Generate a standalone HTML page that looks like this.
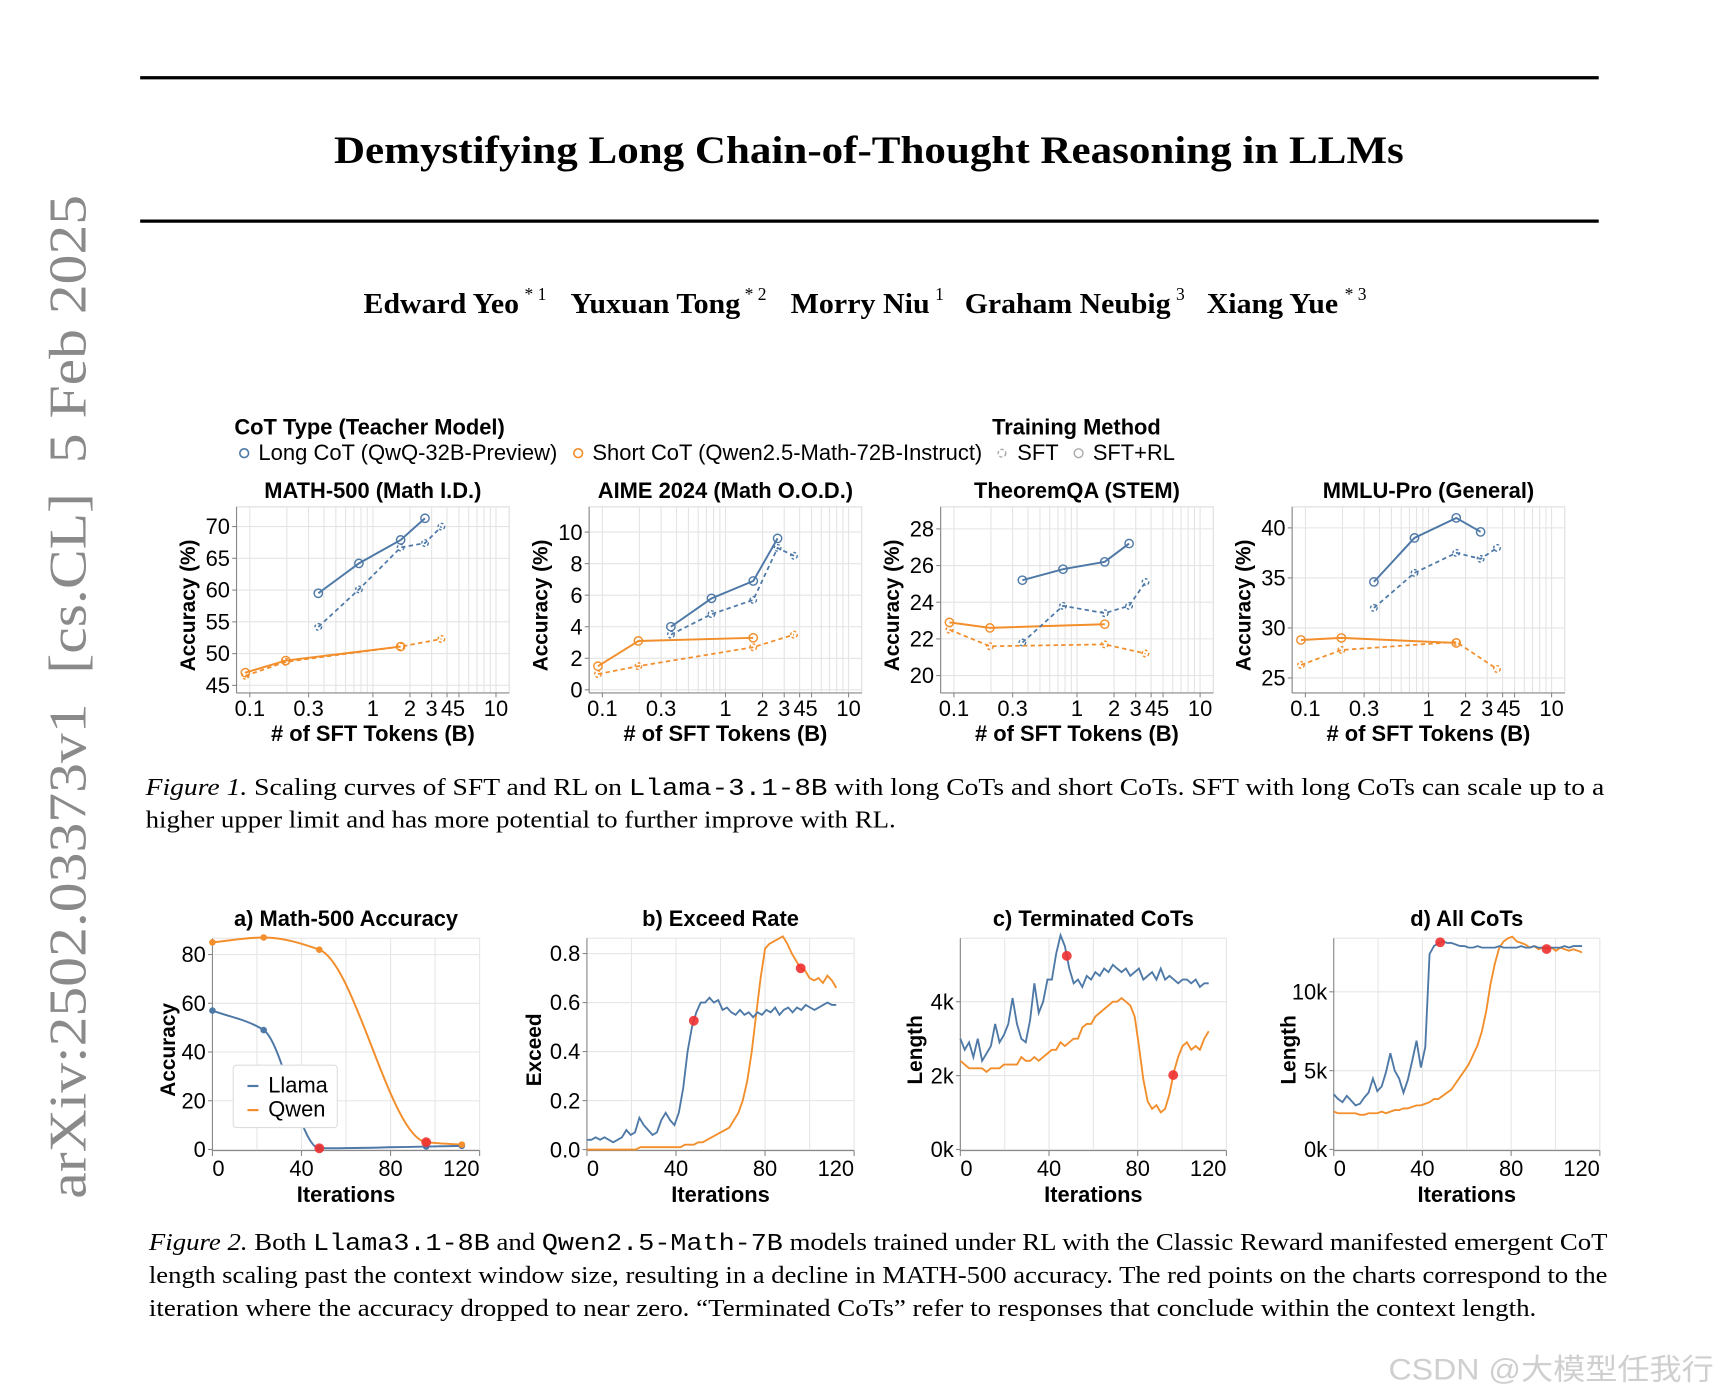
<!DOCTYPE html>
<html><head><meta charset="utf-8">
<style>
html,body{margin:0;padding:0;background:#fff;width:1717px;height:1398px;overflow:hidden}
svg{display:block}
.ser{font-family:"Liberation Serif",serif}
.san{font-family:"Liberation Sans Narrow","Liberation Sans",sans-serif}
.mono{font-family:"Liberation Mono",monospace}
</style></head>
<body>
<svg id="page" xmlns="http://www.w3.org/2000/svg" width="1717" height="1398" viewBox="0 0 1568 1277" preserveAspectRatio="none">
<line x1="128" y1="71" x2="1460" y2="71" stroke="#000" stroke-width="3"/>
<text class="ser" x="305" y="149" font-size="36" font-weight="bold" textLength="977" lengthAdjust="spacingAndGlyphs">Demystifying Long Chain-of-Thought Reasoning in LLMs</text>
<line x1="128" y1="202" x2="1460" y2="202" stroke="#000" stroke-width="3"/>
<g class="ser" font-weight="bold" font-size="26">
<text x="332" y="286" textLength="142" lengthAdjust="spacingAndGlyphs">Edward Yeo</text><text x="479" y="274" font-size="16" font-weight="normal">* 1</text>
<text x="521" y="286" textLength="155" lengthAdjust="spacingAndGlyphs">Yuxuan Tong</text><text x="680" y="274" font-size="16" font-weight="normal">* 2</text>
<text x="722" y="286" textLength="127" lengthAdjust="spacingAndGlyphs">Morry Niu</text><text x="854" y="274" font-size="16" font-weight="normal">1</text>
<text x="881" y="286" textLength="188" lengthAdjust="spacingAndGlyphs">Graham Neubig</text><text x="1074" y="274" font-size="16" font-weight="normal">3</text>
<text x="1102" y="286" textLength="120" lengthAdjust="spacingAndGlyphs">Xiang Yue</text><text x="1228" y="274" font-size="16" font-weight="normal">* 3</text>
</g>
<text class="ser" transform="translate(78,1095) rotate(-90)" x="0" y="0" font-size="48" fill="#8a8a8a" textLength="917" lengthAdjust="spacingAndGlyphs" xml:space="preserve">arXiv:2502.03373v1  [cs.CL]  5 Feb 2025</text>

<g class="san" font-size="20">
<text x="214" y="397" font-weight="bold" textLength="247" lengthAdjust="spacingAndGlyphs">CoT Type (Teacher Model)</text>
<circle cx="223" cy="414" r="4" fill="none" stroke="#4e79a7" stroke-width="1.5"/>
<text x="236" y="420" textLength="273" lengthAdjust="spacingAndGlyphs">Long CoT (QwQ-32B-Preview)</text>
<circle cx="528" cy="414" r="4" fill="none" stroke="#f28e2b" stroke-width="1.5"/>
<text x="541" y="420" textLength="356" lengthAdjust="spacingAndGlyphs">Short CoT (Qwen2.5-Math-72B-Instruct)</text>
<text x="906" y="397" font-weight="bold" textLength="154" lengthAdjust="spacingAndGlyphs">Training Method</text>
<circle cx="915" cy="414" r="3.5" fill="none" stroke="#aaa" stroke-width="1.3" stroke-dasharray="3,2"/>
<text x="929" y="420">SFT</text>
<circle cx="985" cy="414" r="4" fill="none" stroke="#aaa" stroke-width="1.3"/>
<text x="998" y="420" textLength="75" lengthAdjust="spacingAndGlyphs">SFT+RL</text>
</g>
<g id="fig1"></g>

<text class="ser" x="133" y="726" font-size="22" textLength="1332" lengthAdjust="spacingAndGlyphs"><tspan font-style="italic">Figure 1.</tspan> Scaling curves of SFT and RL on <tspan class="mono">Llama-3.1-8B</tspan> with long CoTs and short CoTs.  SFT with long CoTs can scale up to a</text>
<text class="ser" x="133" y="756" font-size="22" textLength="685" lengthAdjust="spacingAndGlyphs">higher upper limit and has more potential to further improve with RL.</text>

<g id="fig2"></g>

<text class="ser" x="136" y="1142" font-size="22" textLength="1332" lengthAdjust="spacingAndGlyphs"><tspan font-style="italic">Figure 2.</tspan> Both <tspan class="mono">Llama3.1-8B</tspan> and <tspan class="mono">Qwen2.5-Math-7B</tspan> models trained under RL with the Classic Reward manifested emergent CoT</text>
<text class="ser" x="136" y="1172" font-size="22" textLength="1332" lengthAdjust="spacingAndGlyphs">length scaling past the context window size, resulting in a decline in MATH-500 accuracy. The red points on the charts correspond to the</text>
<text class="ser" x="136" y="1202" font-size="22" textLength="1267" lengthAdjust="spacingAndGlyphs">iteration where the accuracy dropped to near zero. “Terminated CoTs” refer to responses that conclude within the context length.</text>
<text x="1268" y="1260" font-size="27" fill="#cfcfcf" font-family="'Liberation Sans','Noto Sans CJK SC',sans-serif" textLength="297" lengthAdjust="spacingAndGlyphs">CSDN @大模型任我行</text>
</svg>
<script>
// ---------- Figure 1 data ----------
const xsLongRL = [0.36, 0.77, 1.68, 2.65];
const xsLongSFT = [0.36, 0.77, 1.68, 2.65, 3.6];
const xsShortRL = [0.092, 0.196, 1.68];
const xsShortSFT = [0.092, 0.196, 1.68, 3.6];
const f1Titles = ['MATH-500 (Math I.D.)', 'AIME 2024 (Math O.O.D.)', 'TheoremQA (STEM)', 'MMLU-Pro (General)'];
const f1YTicks = [[45,50,55,60,65,70],[0,2,4,6,8,10],[20,22,24,26,28],[25,30,35,40]];
const f1XTickVals = [0.1, 0.3, 1, 2, 3, 4, 5, 10];
const f1XTickLabels = ['0.1','0.3','1','2','3','4','5','10'];
const longRL = [[59.5,64.2,67.9,71.3],[4.0,5.8,6.9,9.6],[25.2,25.8,26.2,27.2],[34.6,39.0,41.0,39.6]];
const longSFT = [[54.2,60.1,66.7,67.4,70.0],[3.5,4.8,5.7,9.0,8.5],[21.8,23.8,23.4,23.8,25.1],[32.0,35.5,37.5,36.9,38.0]];
const shortRL = [[47.0,48.9,51.1],[1.5,3.1,3.3],[22.9,22.6,22.8],[28.8,29.0,28.5]];
const shortSFT = [[46.5,48.7,51.1,52.3],[1.0,1.5,2.7,3.5],[22.5,21.6,21.7,21.2],[26.3,27.8,28.6,25.9]];

// ---------- Figure 2 data ----------
const f2Titles = ['a) Math-500 Accuracy','b) Exceed Rate','c) Terminated CoTs','d) All CoTs'];
const f2YLabels = ['Accuracy','Exceed','Length','Length'];
const lastIter = 112;
const accIters = [0,23,48,96,112];
const accLlama = [57,49,0.5,1.2,1.5];
const accQwen = [85,87,82,3,2];
const redIters = [48, 96];
const exceedLlama = [.04,.04,.05,.04,.05,.04,.03,.04,.05,.08,.06,.07,.13,.10,.08,.06,.07,.12,.15,.12,.10,.15,.25,.40,.50,.56,.60,.60,.62,.60,.61,.57,.58,.56,.55,.57,.55,.56,.54,.56,.55,.57,.56,.58,.55,.57,.58,.56,.58,.57,.59,.58,.57,.58,.59,.60,.59,.59];
const exceedQwen = [0,0,0,0,0,0,0,0,0,0,0,0,.01,.01,.01,.01,.01,.01,.01,.01,.01,.01,.02,.02,.02,.03,.03,.04,.05,.06,.07,.08,.09,.12,.15,.20,.28,.40,.55,.70,.82,.84,.85,.86,.87,.84,.80,.77,.74,.73,.70,.69,.70,.68,.71,.69,.66];
const termLlama = [3.0,2.7,2.9,2.5,3.0,2.4,2.6,2.8,3.4,2.9,3.1,3.4,4.1,3.4,3.0,2.9,3.5,4.5,3.7,4.0,4.6,4.6,5.3,5.8,5.5,4.9,4.5,4.6,4.4,4.7,4.6,4.8,4.7,4.9,4.8,5.0,4.9,4.8,4.9,4.7,4.8,4.9,4.6,4.7,4.8,4.6,4.9,4.6,4.7,4.6,4.5,4.6,4.6,4.5,4.6,4.4,4.5,4.5];
const termQwen = [2.4,2.3,2.2,2.2,2.2,2.2,2.1,2.2,2.2,2.2,2.3,2.3,2.3,2.3,2.5,2.4,2.4,2.5,2.4,2.5,2.6,2.7,2.7,2.9,2.8,2.9,3.0,3.0,3.3,3.4,3.4,3.6,3.7,3.8,3.9,4.0,4.0,4.1,4.0,3.9,3.6,2.8,1.9,1.3,1.1,1.2,1.0,1.1,1.5,2.1,2.5,2.8,2.9,2.7,2.8,2.7,3.0,3.2];
const allLlama = [3.5,3.2,3.0,3.4,3.1,2.8,2.9,3.3,3.6,4.5,3.7,4.0,4.9,6.1,5.0,4.5,3.6,4.4,5.6,6.9,5.2,6.5,12.4,12.9,13.1,13.2,13.1,13.1,13.0,12.9,12.9,12.8,12.8,12.9,12.8,12.8,12.8,12.8,12.9,12.8,12.8,12.8,12.8,12.9,12.8,12.8,12.9,12.8,12.8,12.8,12.8,12.8,12.8,12.9,12.8,12.9,12.9,12.9];
const allQwen = [2.4,2.3,2.3,2.3,2.3,2.3,2.2,2.2,2.3,2.3,2.3,2.4,2.3,2.4,2.5,2.5,2.6,2.6,2.7,2.8,2.8,2.9,3.0,3.2,3.2,3.4,3.6,3.8,4.2,4.6,5.0,5.4,6.0,6.6,7.5,8.8,10.5,11.8,12.8,13.2,13.4,13.5,13.2,13.1,13.0,12.8,12.9,12.7,12.8,12.7,12.8,12.6,12.8,12.7,12.6,12.7,12.6,12.5];
const f2YTicks = [[0,20,40,60,80],[0,0.2,0.4,0.6,0.8],[0,2,4],[0,5,10]];
const f2YTickLabels = [['0','20','40','60','80'],['0.0','0.2','0.4','0.6','0.8'],['0k','2k','4k'],['0k','5k','10k']];
const f2XTicks = [0,40,80,120];

const NS = 'http://www.w3.org/2000/svg';
const BLUE = '#4e79a7', ORANGE = '#f28e2b';
function mk(tag, attrs, nm, parent, txt) {
  const el = document.createElementNS(NS, tag);
  for (const k in attrs) el.setAttribute(k, attrs[k]);
  
  
  if (txt !== undefined) el.textContent = txt;
  parent.appendChild(el);
  return el;
}
const FONT = '"Liberation Sans Narrow","Liberation Sans",sans-serif';

// ---------- Figure 1 ----------
const fig1 = document.getElementById('fig1');
const f1Left = [216, 538, 859, 1180], f1Top = 463, f1W = 249, f1H = 170;
const f1Dom = [[43.8,73.1],[-0.2,11.6],[19.05,29.2],[23.5,42.1]];
const LX0 = Math.log10(0.078), LX1 = Math.log10(12.8);
for (let p = 0; p < 4; p++) {
  const x0 = f1Left[p], [ymin, ymax] = f1Dom[p];
  const g = mk('g', {}, 'panel-' + f1Titles[p].split(' ')[0].toLowerCase(), fig1);
  const xs = v => x0 + (Math.log10(v) - LX0) / (LX1 - LX0) * f1W;
  const ys = v => f1Top + f1H - (v - ymin) / (ymax - ymin) * f1H;
  mk('rect', {x: x0, y: f1Top, width: f1W, height: f1H, fill: 'none', stroke: '#ddd'}, 'plot-frame', g);
  const minor = [0.1,0.2,0.3,0.4,0.5,0.6,0.7,0.8,0.9,1,2,3,4,5,6,7,8,9,10];
  minor.forEach(v => mk('line', {x1: xs(v), x2: xs(v), y1: f1Top, y2: f1Top + f1H, stroke: '#e4e4e4'}, 'x-gridline', g));
  f1YTicks[p].forEach(v => {
    mk('line', {x1: x0, x2: x0 + f1W, y1: ys(v), y2: ys(v), stroke: '#e4e4e4'}, 'y-gridline', g);
    mk('line', {x1: x0 - 4, x2: x0, y1: ys(v), y2: ys(v), stroke: '#888'}, 'y-tick', g);
    mk('text', {x: x0 - 6, y: ys(v) + 7, 'font-size': 20, 'text-anchor': 'end', 'font-family': FONT}, 'y-tick-label', g, String(v));
  });
  mk('line', {x1: x0, x2: x0, y1: f1Top, y2: f1Top + f1H, stroke: '#888'}, 'y-axis', g);
  mk('line', {x1: x0, x2: x0 + f1W, y1: f1Top + f1H, y2: f1Top + f1H, stroke: '#888'}, 'x-axis', g);
  f1XTickVals.forEach((v, i) => {
    mk('line', {x1: xs(v), x2: xs(v), y1: f1Top + f1H, y2: f1Top + f1H + 4, stroke: '#888'}, 'x-tick', g);
    mk('text', {x: xs(v), y: f1Top + f1H + 21, 'font-size': 20, 'text-anchor': 'middle', 'font-family': FONT}, 'x-tick-label', g, f1XTickLabels[i]);
  });
  mk('text', {x: x0 + f1W / 2, y: f1Top - 8, 'font-size': 20, 'font-weight': 'bold', 'text-anchor': 'middle', 'font-family': FONT}, 'panel-title', g, f1Titles[p]);
  mk('text', {x: x0 + f1W / 2, y: f1Top + f1H + 44, 'font-size': 20, 'font-weight': 'bold', 'text-anchor': 'middle', 'font-family': FONT}, 'x-axis-title', g, '# of SFT Tokens (B)');
  mk('text', {x: 0, y: 0, 'font-size': 19, 'font-weight': 'bold', 'text-anchor': 'middle', 'font-family': '"Liberation Sans",sans-serif', transform: `translate(${x0 - 38},${f1Top + f1H / 2 + 5}) rotate(-90)`}, 'y-axis-title', g, 'Accuracy (%)');
  const series = [
    [xsShortSFT, shortSFT[p], ORANGE, true, 'short-cot-sft'],
    [xsShortRL, shortRL[p], ORANGE, false, 'short-cot-sft-rl'],
    [xsLongSFT, longSFT[p], BLUE, true, 'long-cot-sft'],
    [xsLongRL, longRL[p], BLUE, false, 'long-cot-sft-rl']];
  series.forEach(([xv, yv, col, dash, nm]) => {
    const pts = xv.map((x, i) => xs(x).toFixed(1) + ',' + ys(yv[i]).toFixed(1)).join(' ');
    const a = {points: pts, fill: 'none', stroke: col, 'stroke-width': dash ? 1.6 : 1.8};
    if (dash) a['stroke-dasharray'] = '4,3';
    mk('polyline', a, nm + '-line', g);
    xv.forEach((x, i) => {
      const c = {cx: xs(x), cy: ys(yv[i]), r: dash ? 3 : 3.8, fill: 'none', stroke: col, 'stroke-width': 1.3};
      if (dash) c['stroke-dasharray'] = '2.5,2';
      mk('circle', c, nm + '-point', g);
    });
  });
}

// ---------- Figure 2 ----------
const fig2 = document.getElementById('fig2');
const f2Left = [194, 536, 877, 1218], f2W = [244, 244, 243, 243], f2Top = 857, f2H = 194;
const f2XDom = [[0,120],[0,120],[0,120],[0,120]];
const f2YDom = [[-0.45,86.7],[-0.004,0.8626],[-0.03,5.72],[-0.07,13.4]];
function monotone(pts) {
  const n = pts.length, dx = [], sl = [], m = [];
  for (let i = 0; i < n - 1; i++) { dx[i] = pts[i+1][0] - pts[i][0]; sl[i] = (pts[i+1][1] - pts[i][1]) / dx[i]; }
  m[0] = sl[0]; m[n-1] = sl[n-2];
  for (let i = 1; i < n - 1; i++) m[i] = (sl[i-1] * sl[i] <= 0) ? 0 : 3 * (dx[i-1] + dx[i]) / ((2*dx[i] + dx[i-1]) / sl[i-1] + (dx[i] + 2*dx[i-1]) / sl[i]);
  let d = 'M' + pts[0][0] + ',' + pts[0][1];
  for (let i = 0; i < n - 1; i++) {
    const h = dx[i] / 3;
    d += ` C${pts[i][0] + h},${pts[i][1] + m[i]*h} ${pts[i+1][0] - h},${pts[i+1][1] - m[i+1]*h} ${pts[i+1][0]},${pts[i+1][1]}`;
  }
  return d;
}
function valueAt(arr, iter) {
  const f = iter / lastIter * (arr.length - 1), i = Math.min(arr.length - 2, Math.floor(f)), t = f - i;
  return arr[i] * (1 - t) + arr[i + 1] * t;
}
const f2Series = [null, [exceedLlama, exceedQwen], [termLlama, termQwen], [allLlama, allQwen]];
for (let p = 0; p < 4; p++) {
  const x0 = f2Left[p], w = f2W[p], [xmin, xmax] = f2XDom[p], [ymin, ymax] = f2YDom[p];
  const g = mk('g', {}, 'panel-' + f2Titles[p].charAt(0), fig2);
  const xs = v => x0 + (v - xmin) / (xmax - xmin) * w;
  const ys = v => f2Top + f2H - (v - ymin) / (ymax - ymin) * f2H;
  [0,20,40,60,80,100,120].forEach(v => mk('line', {x1: xs(v), x2: xs(v), y1: f2Top, y2: f2Top + f2H, stroke: '#e6e6e6'}, 'x-gridline', g));
  mk('line', {x1: x0, x2: x0 + w, y1: f2Top, y2: f2Top, stroke: '#e6e6e6'}, 'top-gridline', g);
  f2YTicks[p].forEach((v, i) => {
    mk('line', {x1: x0, x2: x0 + w, y1: ys(v), y2: ys(v), stroke: '#e6e6e6'}, 'y-gridline', g);
    mk('line', {x1: x0 - 4, x2: x0, y1: ys(v), y2: ys(v), stroke: '#888'}, 'y-tick', g);
    mk('text', {x: x0 - 6, y: ys(v) + 7, 'font-size': 20, 'text-anchor': 'end', 'font-family': FONT}, 'y-tick-label', g, f2YTickLabels[p][i]);
  });
  mk('line', {x1: x0, x2: x0, y1: f2Top, y2: f2Top + f2H, stroke: '#888'}, 'y-axis', g);
  mk('line', {x1: x0, x2: x0 + w, y1: f2Top + f2H, y2: f2Top + f2H, stroke: '#888'}, 'x-axis', g);
  f2XTicks.forEach((v, i) => {
    const anchor = i === 0 ? 'start' : (i === f2XTicks.length - 1 ? 'end' : 'middle');
    mk('line', {x1: xs(v), x2: xs(v), y1: f2Top + f2H, y2: f2Top + f2H + 5, stroke: '#888'}, 'x-tick', g);
    mk('text', {x: xs(v), y: f2Top + f2H + 23, 'font-size': 20, 'text-anchor': anchor, 'font-family': FONT}, 'x-tick-label', g, String(v));
  });
  mk('text', {x: x0 + w / 2, y: f2Top - 11, 'font-size': 20, 'font-weight': 'bold', 'text-anchor': 'middle', 'font-family': FONT}, 'panel-title', g, f2Titles[p]);
  mk('text', {x: x0 + w / 2, y: f2Top + f2H + 47, 'font-size': 20, 'font-weight': 'bold', 'text-anchor': 'middle', 'font-family': FONT}, 'x-axis-title', g, 'Iterations');
  const lblOff = p === 1 ? 42 : (p === 0 ? 34 : 35);
  mk('text', {x: 0, y: 0, 'font-size': 19, 'font-weight': 'bold', 'text-anchor': 'middle', 'font-family': '"Liberation Sans",sans-serif', transform: `translate(${x0 - lblOff},${f2Top + f2H / 2 + 5}) rotate(-90)`}, 'y-axis-title', g, f2YLabels[p]);
  if (p === 0) {
    const lp = accIters.map((x, i) => [xs(x), ys(accLlama[i])]);
    const qp = accIters.map((x, i) => [xs(x), ys(accQwen[i])]);
    mk('path', {d: monotone(qp), fill: 'none', stroke: ORANGE, 'stroke-width': 1.8}, 'qwen-accuracy-line', g);
    mk('path', {d: monotone(lp), fill: 'none', stroke: BLUE, 'stroke-width': 1.8}, 'llama-accuracy-line', g);
    accIters.forEach((x, i) => {
      mk('circle', {cx: xs(x), cy: ys(accLlama[i]), r: 3, fill: BLUE}, 'llama-accuracy-point', g);
      mk('circle', {cx: xs(x), cy: ys(accQwen[i]), r: 3, fill: ORANGE}, 'qwen-accuracy-point', g);
    });
    mk('circle', {cx: xs(accIters[2]), cy: ys(accLlama[2]), r: 4.5, fill: '#f03030', opacity: 0.9}, 'red-point-llama', g);
    mk('circle', {cx: xs(accIters[3]), cy: ys(accQwen[3]), r: 4.5, fill: '#f03030', opacity: 0.9}, 'red-point-qwen', g);
    const lg = mk('g', {}, 'legend', g);
    mk('rect', {x: 213, y: 973, width: 95, height: 57, rx: 3, fill: '#fff', stroke: '#ddd'}, 'legend-box', lg);
    mk('line', {x1: 226, x2: 236, y1: 992, y2: 992, stroke: BLUE, 'stroke-width': 2}, 'legend-llama-swatch', lg);
    mk('text', {x: 245, y: 998, 'font-size': 20, 'font-family': FONT}, 'legend-llama', lg, 'Llama');
    mk('line', {x1: 226, x2: 236, y1: 1014, y2: 1014, stroke: ORANGE, 'stroke-width': 2}, 'legend-qwen-swatch', lg);
    mk('text', {x: 245, y: 1020, 'font-size': 20, 'font-family': FONT}, 'legend-qwen', lg, 'Qwen');
  } else {
    const [ll, qq] = f2Series[p];
    const pts = arr => arr.map((v, i) => xs(i * lastIter / (arr.length - 1)).toFixed(1) + ',' + ys(v).toFixed(1)).join(' ');
    mk('polyline', {points: pts(qq), fill: 'none', stroke: ORANGE, 'stroke-width': 1.7}, 'qwen-line', g);
    mk('polyline', {points: pts(ll), fill: 'none', stroke: BLUE, 'stroke-width': 1.7}, 'llama-line', g);
    mk('circle', {cx: xs(redIters[0]), cy: ys(valueAt(ll, redIters[0])), r: 4.5, fill: '#f03030', opacity: 0.9}, 'red-point-llama', g);
    mk('circle', {cx: xs(redIters[1]), cy: ys(valueAt(qq, redIters[1])), r: 4.5, fill: '#f03030', opacity: 0.9}, 'red-point-qwen', g);
  }
}
</script>
</body></html>
